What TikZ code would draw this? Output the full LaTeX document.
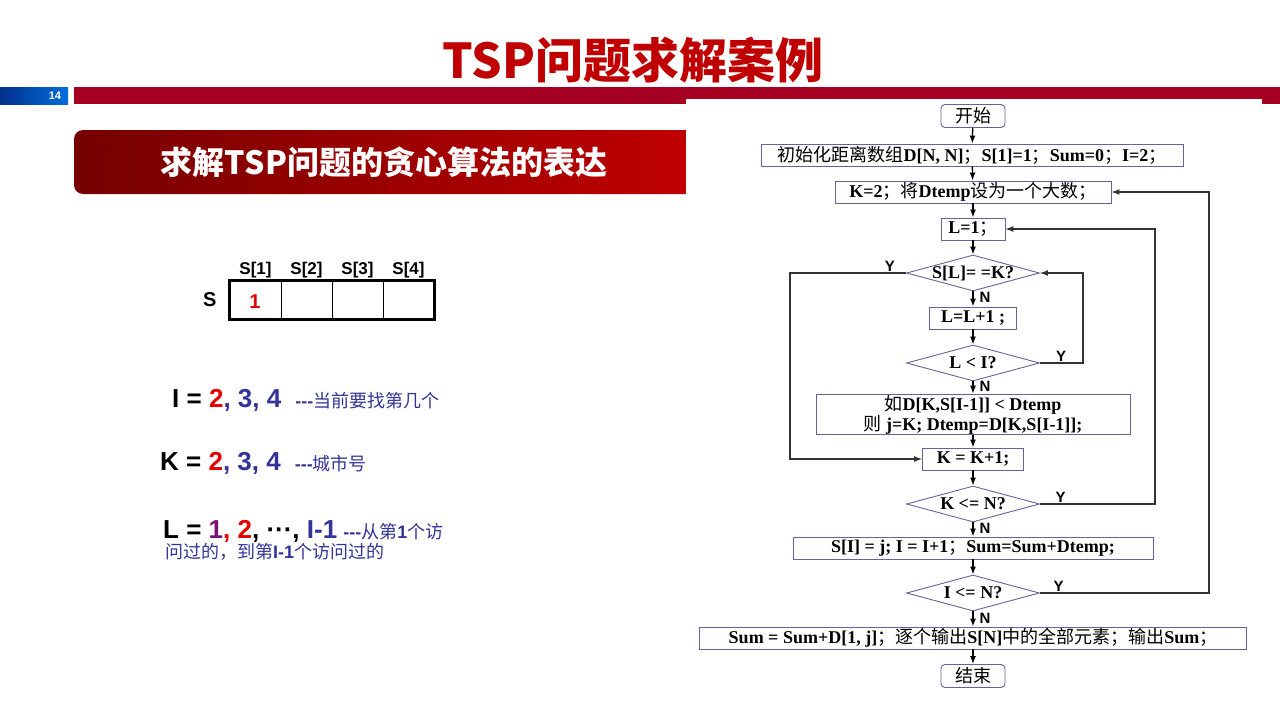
\documentclass[tikz,border=0pt]{standalone}
\usepackage{fontspec}
\setmainfont{Liberation Serif}
\setsansfont{Liberation Sans}
\newfontfamily\cjk{Noto Sans CJK SC}
\usetikzlibrary{positioning, arrows.meta, shapes.geometric}

\definecolor{barred}{RGB}{165,0,33}
\definecolor{titred}{RGB}{192,0,0}
\definecolor{bandl}{RGB}{118,0,0}
\definecolor{bandr}{RGB}{192,0,0}
\definecolor{pgblue}{RGB}{0,48,140}
\definecolor{pgblueb}{RGB}{0,110,220}
\definecolor{darkblue}{RGB}{51,51,153}
\definecolor{hired}{RGB}{230,0,0}
\definecolor{purp}{RGB}{120,20,120}
\definecolor{boxc}{RGB}{100,100,150}

\newcommand{\zh}[1]{{\cjk\mdseries #1}}
\newcommand{\dtxt}[1]{\makebox[0pt]{#1}}

\begin{document}
\begin{tikzpicture}[x=1pt, y=-1pt,
  proc/.style={draw=boxc, line width=0.9pt, fill=white, minimum height=22pt,
               inner xsep=3pt, inner ysep=1pt, align=center,
               font=\bfseries\fontsize{18}{16}\selectfont},
  term/.style={proc, rounded corners=4pt, minimum width=64pt, minimum height=23pt},
  dia/.style={diamond, draw=boxc, line width=0.9pt, fill=white, aspect=3.8,
              minimum width=133pt, minimum height=36pt, inner sep=0pt,
              font=\bfseries\fontsize{18}{16}\selectfont},
  arr/.style={-{Latex[length=8pt, width=6pt]}, line width=1.3pt},
  back/.style={arr, draw=black!80, line width=1.1pt},
  yn/.style={font=\sffamily\bfseries\fontsize{15}{15}\selectfont, inner sep=1pt},
  cell/.style={draw=black, line width=0.8pt, minimum width=51pt, minimum height=38pt,
               inner sep=0pt},
  hdr/.style={font=\sffamily\bfseries\fontsize{17}{17}\selectfont, inner sep=1pt},
  banner/.style={rounded corners=9pt, left color=bandl, right color=bandr,
                 minimum width=620pt, minimum height=64pt, text=white,
                 font=\cjk\bfseries\fontsize{32}{32}\selectfont},
  bigf/.style={font=\sffamily\bfseries\fontsize{26}{30}\selectfont, anchor=base west,
               inner sep=0pt},
  note/.style={font=\color{darkblue}\fontsize{18}{22}\selectfont, anchor=base west,
               inner sep=0pt},
]
\useasboundingbox (0,0) rectangle (1280,720);

% Header bars
\shade[left color=pgblue, right color=pgblueb] (0,87) rectangle (68,104);
\fill[barred] (74,87) rectangle (1280,104);
\node[font=\sffamily\bfseries\fontsize{11}{11}\selectfont, text=white] (pg) at (55,95.5) {14};
\node[font=\cjk\bfseries\fontsize{48}{48}\selectfont, text=titred] (title) at (633,60)
  {TSP问题求解案例};

% Banner
\node[banner] (sub) at (384,162) {求解TSP问题的贪心算法的表达};

% Flowchart area
\fill[white] (686,99) rectangle (1262,720);

% Array S
\foreach \i in {1,...,4} {
  \node[cell] (c\i) at ({230+51*(\i-0.5)},300) {};
  \node[hdr, above=1pt of c\i] (h\i) {S[\i]};
}
\draw[line width=2.4pt] (c1.north west) rectangle (c4.south east);
\node[hdr, font=\sffamily\bfseries\fontsize{20}{20}\selectfont, left=12pt of c1] (slab) {S};
\node[font=\sffamily\bfseries\fontsize{20}{20}\selectfont, text=hired] (one) at (255,302) {1};

% Loop variables
\node[bigf] (iline) at (172,407)
  {I = \textcolor{hired}{2}\textcolor{darkblue}{, 3, 4}\hspace{14pt}{\color{darkblue}\fontsize{18}{22}\selectfont -{}-{}-\zh{当前要找第几个}}};
\node[bigf] (kline) at (160,470)
  {K = \textcolor{hired}{2}\textcolor{darkblue}{, 3, 4}\hspace{14pt}{\color{darkblue}\fontsize{18}{22}\selectfont -{}-{}-\zh{城市号}}};
\node[bigf] (lline) at (163,538)
  {L = \textcolor{purp}{1}\textcolor{hired}{, 2}, ···, \textcolor{darkblue}{I-1}\hspace{6pt}{\color{darkblue}\fontsize{18}{22}\selectfont -{}-{}-\zh{从第}1\zh{个访}}};
\node[note] (lline2) at (165,558)
  {\zh{问过的，到第}{\sffamily\bfseries I-1}\zh{个访问过的}};

% Flowchart nodes
\node[term] (start) at (973,116) {\zh{开始}};
\node[proc, minimum width=422pt] (init) at (972,155)
  {\zh{初始化距离数组}D[N, N]\zh{；}S[1]=1\zh{；}Sum=0\zh{；}I=2\zh{；}};
\node[proc, minimum width=276pt] (k2) at (973,192) {K=2\zh{；将}Dtemp\zh{设为一个大数；}};
\node[proc, minimum width=64pt] (l1) at (973,229) {L=1\zh{；}};
\node[dia] (d1) at (973,273) {\dtxt{S[L]= =K?}};
\node[proc, minimum width=87pt] (ll1) at (973,318) {L=L+1 ;};
\node[dia] (d2) at (973,363) {\dtxt{L < I?}};
\node[proc, minimum width=314pt, minimum height=35pt] (ifd) at (973,414.5)
  {\zh{如}D[K,S[I-1]] < Dtemp\\\zh{则} j=K; Dtemp=D[K,S[I-1]];};
\node[proc, minimum width=101pt] (kk1) at (973,459) {K = K+1;};
\node[dia] (d3) at (973,504) {\dtxt{K <= N?}};
\node[proc, minimum width=360pt] (si) at (973,548)
  {S[I] = j; I = I+1\zh{；}Sum=Sum+Dtemp;};
\node[dia] (d4) at (973,593) {\dtxt{I <= N?}};
\node[proc, minimum width=547pt] (sum) at (973,638)
  {Sum = Sum+D[1, j]\zh{；逐个输出}S[N]\zh{中的全部元素；输出}Sum\zh{；}};
\node[term] (stop) at (973,676) {\zh{结束}};

% Loop columns
\coordinate (lft) at (790,0);
\coordinate (r1) at (1083,0);
\coordinate (r2) at (1155,0);
\coordinate (r3) at (1209,0);

% Arrows
\draw[arr] (start) -- (init);
\draw[arr] (init) -- (k2);
\draw[arr] (k2) -- (l1);
\draw[arr] (l1) -- (d1);
\draw[arr] (d1) -- node[yn, right, xshift=5pt, pos=0.4] {N} (ll1);
\draw[arr] (ll1) -- (d2);
\draw[arr] (d2) -- node[yn, right, xshift=5pt, pos=0.4] {N} (ifd);
\draw[arr] (ifd) -- (kk1);
\draw[arr] (kk1) -- (d3);
\draw[arr] (d3) -- node[yn, right, xshift=5pt, pos=0.45] {N} (si);
\draw[arr] (si) -- (d4);
\draw[arr] (d4) -- node[yn, right, xshift=5pt, pos=0.45] {N} (sum);
\draw[arr] (sum) -- (stop);

% Back edges
\draw[back] (d1.west) -- node[yn, above, pos=0.14] {Y} (d1.west -| lft) |- (kk1.west);
\draw[back] (d2.east) -- node[yn, above, pos=0.49] {Y} (d2.east -| r1) |- (d1.east);
\draw[back] (d3.east) -- node[yn, above, pos=0.18] {Y} (d3.east -| r2) |- (l1.east);
\draw[back] (d4.east) -- node[yn, above, pos=0.11] {Y} (d4.east -| r3) |- (k2.east);

\end{tikzpicture}
\end{document}
